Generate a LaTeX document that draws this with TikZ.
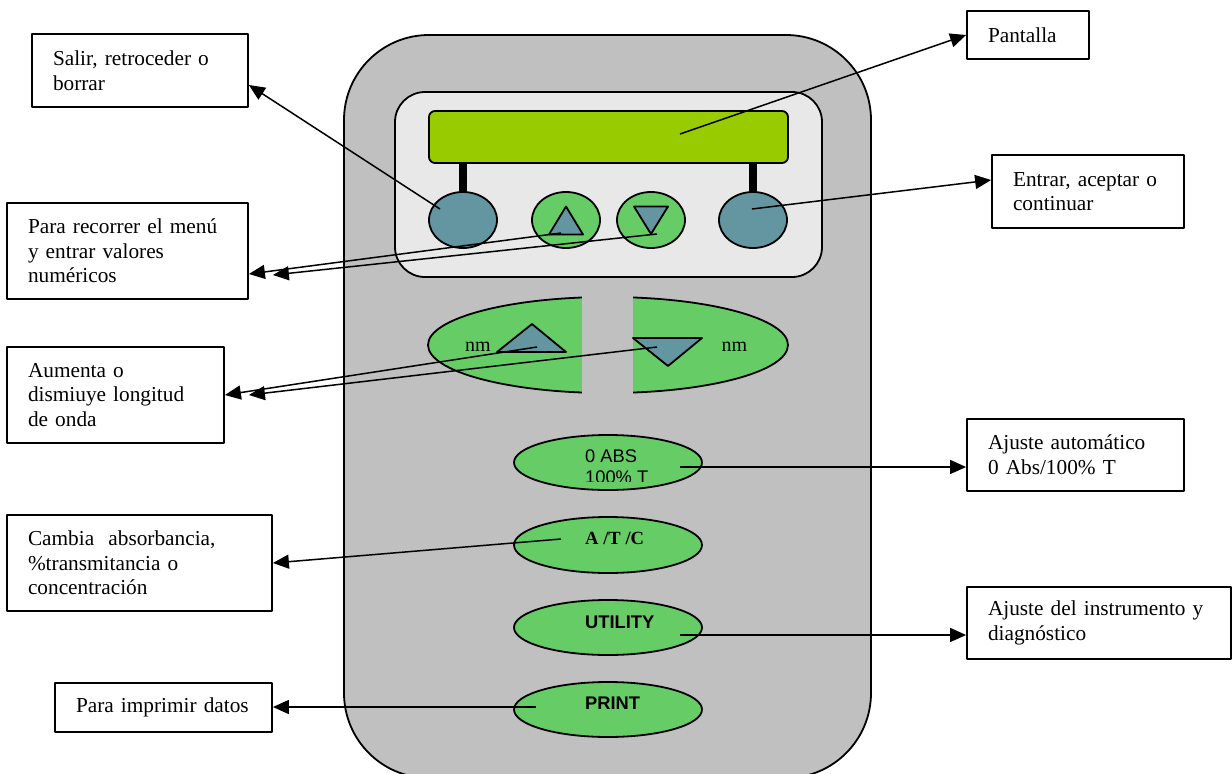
\documentclass[tikz,border=0pt]{standalone}
\usepackage{fontspec}
\setmainfont{Liberation Serif}
\setsansfont{Liberation Sans}
\usetikzlibrary{arrows.meta,shapes.geometric}
\definecolor{bodygray}{RGB}{192,192,192}
\definecolor{panelgray}{RGB}{232,232,232}
\definecolor{dispgreen}{RGB}{153,204,0}
\definecolor{btngreen}{RGB}{102,204,102}
\definecolor{btnblue}{RGB}{99,150,161}
\newcommand\boxfont{\fontsize{21.3}{24.6}\selectfont}
\newcommand\btnsans{\sffamily\fontsize{18.3}{21}\selectfont}
\begin{document}
\begin{tikzpicture}[x=1pt,y=-1pt,line join=round,
  lbl/.style={draw,line width=1.8pt,fill=white,inner xsep=21pt,inner ysep=0pt,align=left,font=\boxfont},
  conn/.style={line width=1.5pt,-{Triangle[length=16pt,width=14pt]}},
  outl/.style={draw,line width=1.8pt},
  oval/.style={ellipse,outl,inner sep=0pt},
  tri/.style={outl,fill=btnblue},
  stem/.style={fill=black},
  btntext/.style={inner sep=0pt,anchor=west,align=left}]
\useasboundingbox (0,0) rectangle (1232,774);
\clip (0,0) rectangle (1232,774);
% body
\draw[outl,fill=bodygray,rounded corners=85pt] (344,35) rectangle (871,778);
\draw[outl,fill=panelgray,rounded corners=30pt] (395,92) rectangle (822,277);
\node[outl,fill=dispgreen,rounded corners=6pt,minimum width=359pt,minimum height=52pt,inner sep=0pt] (display) at (608.5,137) {};
\fill[stem] (459,163) rectangle (467,195);
\fill[stem] (749,163) rectangle (757,195);
% upper buttons
\node[oval,fill=btnblue,minimum width=68pt,minimum height=56pt] (bexit) at (463,220) {};
\node[oval,fill=btngreen,minimum width=68pt,minimum height=56pt] (bup) at (566,220) {};
\node[oval,fill=btngreen,minimum width=68pt,minimum height=56pt] (bdown) at (651,220) {};
\node[oval,fill=btnblue,minimum width=68pt,minimum height=56pt] (benter) at (753,220) {};
\draw[tri] (566,206.5) -- (583,234.5) -- (549,234.5) -- cycle;
\draw[tri] (634,206.5) -- (668,206.5) -- (651,234) -- cycle;
% nm buttons
\node[oval,fill=btngreen,minimum width=360pt,minimum height=96pt] (bnm) at (608,345) {};
\fill[bodygray] (582,290) rectangle (633,400);
\draw[tri] (532,324) -- (566,352) -- (497,352) -- cycle;
\draw[tri] (633,338) -- (702,338) -- (668,366) -- cycle;
\node[inner sep=0pt,font=\fontsize{20}{22}\selectfont] (nmleft) at (478,347) {nm};
\node[inner sep=0pt,font=\fontsize{20}{22}\selectfont] (nmright) at (734.5,347) {nm};
% lower buttons
\node[oval,fill=btngreen,minimum width=188pt,minimum height=55pt] (babs) at (608,462.5) {};
\node[oval,fill=btngreen,minimum width=188pt,minimum height=56pt] (batc) at (608,545) {};
\node[oval,fill=btngreen,minimum width=188pt,minimum height=55pt] (butil) at (608,627.5) {};
\node[oval,fill=btngreen,minimum width=188pt,minimum height=55pt] (bprint) at (608,709.5) {};
\begin{scope}
\clip (560,440) rectangle (700,481);
\node[btntext,font=\btnsans] (tabs) at (585,466.5) {0 ABS\\100\% T};
\end{scope}
\node[btntext,font=\bfseries\fontsize{18.6}{21}\selectfont] (tatc) at (585,538) {A /T /C};
\node[btntext,font=\btnsans\bfseries] (tutil) at (585,622) {UTILITY};
\node[btntext,font=\btnsans\bfseries] (tprint) at (585,703) {PRINT};
% label boxes
\node[lbl,text width=174pt,minimum height=73pt] (salir) at (140,70.5) {\mbox{Salir, retroceder o}\\\mbox{borrar}};
\node[lbl,text width=199pt,minimum height=96pt] (recorrer) at (127.5,251) {\mbox{Para recorrer el menú}\\\mbox{y entrar valores}\\\mbox{numéricos}};
\node[lbl,text width=175pt,minimum height=96pt] (aumenta) at (115.5,395) {\mbox{Aumenta o}\\\mbox{dismiuye longitud}\\\mbox{de onda}};
\node[lbl,text width=223pt,minimum height=96pt] (cambia) at (139.5,563) {\mbox{Cambia\ \ absorbancia,}\\\mbox{\%transmitancia o}\\\mbox{concentración}};
\node[lbl,text width=175pt,minimum height=49pt] (imprimir) at (163.5,707.5) {\mbox{Para imprimir datos}};
\node[lbl,text width=80pt,minimum height=48pt] (pantalla) at (1028,35) {\mbox{Pantalla}};
\node[lbl,text width=150pt,minimum height=73pt] (entrar) at (1088,191.5) {\mbox{Entrar, aceptar o}\\\mbox{continuar}};
\node[lbl,text width=175pt,minimum height=72pt] (ajauto) at (1075.5,455) {\mbox{Ajuste automático}\\\mbox{0 Abs/100\% T}};
\node[lbl,text width=222pt,minimum height=72pt] (ajdiag) at (1099,623) {\mbox{Ajuste del instrumento y}\\\mbox{diagnóstico}};
% connector starts
\coordinate (sdisp) at (680,134);
\coordinate (sexit) at (440,209);
\coordinate (senter) at (752,209);
\coordinate (sup) at (561,233);
\coordinate (sdown) at (657,234);
\coordinate (snmup) at (537,347);
\coordinate (snmdown) at (657,347);
\coordinate (sabs) at (680,467);
\coordinate (satc) at (561,539);
\coordinate (sutil) at (680,635);
\coordinate (sprint) at (536,707);
% connectors
\draw[conn] (sdisp) -- (pantalla.west);
\draw[conn] (sexit) -- ([yshift=-14.5pt]salir.east);
\draw[conn] (senter) -- ([yshift=11.5pt]entrar.west);
\draw[conn] (sup) -- ([yshift=-23pt]recorrer.east);
\draw[conn] (sdown) -- ([xshift=24pt,yshift=-24pt]recorrer.east);
\draw[conn] (snmup) -- (aumenta.east);
\draw[conn] (snmdown) -- ([xshift=24pt]aumenta.east);
\draw[conn] (sabs) -- (sabs -| ajauto.west);
\draw[conn] (satc) -- (cambia.east);
\draw[conn] (sutil) -- (sutil -| ajdiag.west);
\draw[conn] (sprint) -- (sprint -| imprimir.east);
\end{tikzpicture}
\end{document}
